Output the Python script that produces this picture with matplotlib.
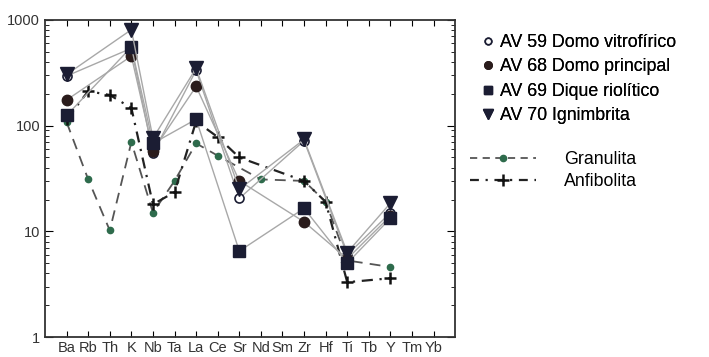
import numpy as np
import matplotlib.pyplot as plt
from matplotlib.lines import Line2D

plt.rcParams['font.family'] = ['Liberation Sans', 'DejaVu Sans']

# element order along the spider diagram
elements = ['Ba', 'Rb', 'Th', 'K', 'Nb', 'Ta', 'La', 'Ce', 'Sr', 'Nd',
            'Sm', 'Zr', 'Hf', 'Ti', 'Tb', 'Y', 'Tm', 'Yb']

# samples: element -> normalised value (only the plotted elements)
av59 = {'Ba': 295, 'K': 540, 'Nb': 55, 'La': 335, 'Sr': 20.5, 'Zr': 72, 'Ti': 6.0, 'Y': 15}
av68 = {'Ba': 175, 'K': 455, 'Nb': 58, 'La': 235, 'Sr': 30, 'Zr': 12.3, 'Ti': 5.5, 'Y': 14}
av69 = {'Ba': 125, 'K': 555, 'Nb': 68, 'La': 115, 'Sr': 6.5, 'Zr': 16.5, 'Ti': 5.0, 'Y': 13.3}
av70 = {'Ba': 305, 'K': 810, 'Nb': 76, 'La': 350, 'Sr': 25, 'Zr': 74, 'Ti': 6.3, 'Y': 18.5}

granulita = {'Ba': 108, 'Rb': 31, 'Th': 10.2, 'K': 70, 'Nb': 15, 'Ta': 30, 'La': 68,
             'Ce': 52, 'Nd': 31, 'Zr': 30, 'Hf': 19, 'Ti': 5.3, 'Y': 4.6}
anfibolita = {'Ba': 115, 'Rb': 212, 'Th': 195, 'K': 147, 'Nb': 18, 'Ta': 23.5,
              'La': 110, 'Ce': 78, 'Sr': 50, 'Zr': 30, 'Hf': 19, 'Ti': 3.3, 'Y': 3.6}

labels = ['AV 59 Domo vitrofírico', 'AV 68 Domo principal',
          'AV 69 Dique riolítico', 'AV 70 Ignimbrita']

pos = {el: i + 1 for i, el in enumerate(elements)}


def xy(d):
    return [pos[k] for k in d], list(d.values())


fig = plt.figure(figsize=(7.09, 3.57), dpi=100)
ax = fig.add_axes([0.0635, 0.056, 0.5785, 0.888])

dark = '#1b1d33'
line_gray = '#a8a8a8'

# reference rocks
x, y = xy(granulita)
ax.plot(x, y, color='#555555', lw=1.3, ls=(0, (6, 4)), marker='o', ms=4.5,
        mfc='#2e6b4c', mec='#2e6b4c', zorder=2)
x, y = xy(anfibolita)
ax.plot(x, y, color='#222222', lw=1.6, ls=(0, (5, 3, 1, 3)), marker='+', ms=8,
        mew=1.8, mec='#111111', zorder=2)

# samples
styles = [
    (av59, dict(marker='o', ms=6.5, mfc='white', mec=dark, mew=1.2)),
    (av68, dict(marker='o', ms=7.5, mfc='#2a1c1c', mec='#2a1c1c')),
    (av69, dict(marker='s', ms=8, mfc=dark, mec=dark)),
    (av70, dict(marker='v', ms=9.5, mfc=dark, mec=dark)),
]
for d, st in styles:
    x, y = xy(d)
    ax.plot(x, y, color=line_gray, lw=1.0, zorder=3, **st)

ax.set_yscale('log')
ax.set_ylim(1, 1000)
ax.set_xlim(0, 19)
ax.set_xticks(range(1, 19))
ax.set_xticklabels(elements, fontsize=10.5, color='#333333')
ax.set_yticks([1, 10, 100, 1000])
ax.set_yticklabels(['1', '10', '100', '1000'], fontsize=10.5, color='#333333')
ax.tick_params(axis='both', which='both', direction='in', top=True, right=True)
ax.tick_params(axis='x', length=4, pad=3)
ax.tick_params(axis='y', which='major', length=6)
ax.tick_params(axis='y', which='minor', length=3)
for s in ax.spines.values():
    s.set_linewidth(1.3)
    s.set_color('#333333')

# legends
h1 = [Line2D([], [], ls='none', **st) for _, st in styles]
leg1 = fig.legend(h1, labels, loc='upper left', bbox_to_anchor=(0.667, 0.93),
                  frameon=False, fontsize=12.8, handlelength=0.7, markerscale=0.72,
                  handletextpad=0.3, labelspacing=0.42, borderpad=0)
fig.add_artist(leg1)

h2 = [Line2D([], [], color='#555555', lw=1.3, ls=(0, (4, 3)), marker='o', ms=4.5,
             mfc='#2e6b4c', mec='#2e6b4c'),
      Line2D([], [], color='#222222', lw=1.6, ls=(0, (4, 3, 1, 3)), marker='+', ms=8,
             mew=1.8, mec='#111111')]
fig.legend(h2, ['Granulita', 'Anfibolita'], loc='upper left',
           bbox_to_anchor=(0.65, 0.601), frameon=False, fontsize=12.8,
           handlelength=3.7, handletextpad=1.6, labelspacing=0.28, borderpad=0)

fig.savefig('out.png', dpi=100)
